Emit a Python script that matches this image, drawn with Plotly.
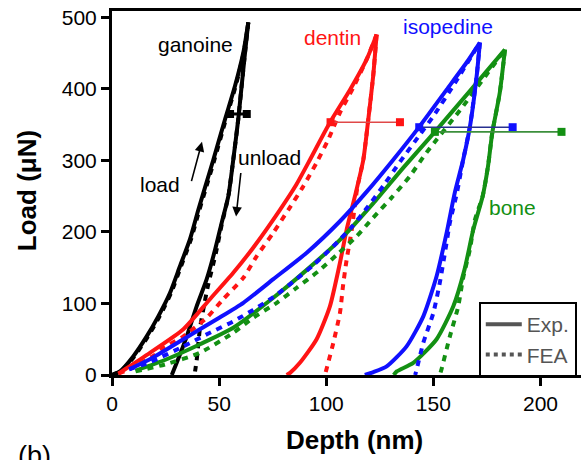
import plotly.graph_objects as go

# ---------------- data (Depth nm, Load uN) ----------------
gan_exp_load_d = [0, 3.7, 9.9, 16.2, 21.6, 27.1, 31.7, 36.4, 40.3, 43.5, 47.3, 52.7, 57.4, 61.3, 63.6]
gan_exp_load_L = [0, 5, 26, 54, 82, 115, 152, 190, 231, 263, 301, 357, 404, 451, 493]
gan_exp_unload_d = [63.6, 62.1, 60.5, 58.9, 56.6, 54.3, 51.2, 48.1, 44.2, 39.5, 34.9, 30.2, 27.9]
gan_exp_unload_L = [493, 451, 404, 357, 301, 250, 213, 175, 134, 96, 54, 17, 0]
gan_fea_load_d = [0, 4.0, 10.4, 16.8, 22.2, 27.6, 32.2, 36.9, 40.8, 44.0, 47.8, 53.1, 57.7, 61.5, 63.6]
gan_fea_load_L = [0, 5, 26, 54, 82, 115, 152, 190, 231, 263, 301, 357, 404, 451, 493]
gan_fea_unload_d = [63.6, 62.1, 60.5, 58.9, 56.6, 54.3, 51.4, 48.5, 44.8, 42.5, 41.0, 39.5, 38.5]
gan_fea_unload_L = [493, 451, 404, 357, 301, 250, 213, 171, 125, 90, 64, 20, 0]

den_exp_load_d = [3, 6.1, 17.7, 33.3, 45.7, 56.6, 65.9, 78.4, 86, 92.4, 101.7, 111.1, 118.8, 123.5]
den_exp_load_L = [2, 8, 31, 64, 106, 143, 178, 231, 266, 301, 353, 399, 441, 476]
den_exp_unload_d = [123.5, 121.9, 119.6, 117.3, 113.8, 109.5, 106.4, 101.7, 95.5, 87.7, 83.1, 81.5]
den_exp_unload_L = [476, 418, 357, 301, 255, 203, 157, 96, 50, 17, 3, 0]
den_fea_load_d = [3, 8, 20, 24, 33.3, 44.2, 51.9, 61.3, 67.5, 75.3, 82.3, 89.3, 95.5, 100.9, 106.4, 112.6, 118.8, 123.5]
den_fea_load_L = [2, 8, 28, 38, 54, 80, 106, 136, 166, 199, 231, 264, 297, 329, 367, 402, 441, 476]
den_fea_unload_d = [123.5, 121.9, 119.6, 117.3, 114.5, 113.5, 111.9, 109.5, 107.8, 106.4, 103.3, 99.4]
den_fea_unload_L = [476, 418, 357, 301, 262, 241, 203, 161, 124, 87, 45, 0]

iso_exp_load_d = [8, 17.7, 33.3, 48.9, 61.3, 75.3, 90.9, 106.4, 118.8, 131, 143.4, 156.2, 165.5, 171.7]
iso_exp_load_L = [8, 22, 50, 78, 101, 134, 171, 215, 256, 300, 347, 399, 437, 465]
iso_exp_unload_d = [171.7, 170.2, 167.1, 163.9, 160.0, 156.2, 151.5, 145.3, 137.5, 128.2, 122, 118]
iso_exp_unload_L = [465, 418, 348, 301, 255, 199, 138, 82, 40, 12, 4, 0]
iso_fea_load_d = [8, 17.7, 33.3, 45, 56.6, 65.9, 75.3, 84.4, 93.7, 103.3, 111.9, 119.6, 127, 134.4, 143.7, 150, 160, 171.7]
iso_fea_load_L = [8, 18, 40, 58, 75, 91, 109, 130, 153, 180, 207, 236, 266, 298, 336, 362, 408, 465]
iso_fea_unload_d = [171.7, 170.2, 167.1, 163.9, 161, 157.7, 155.4, 153, 150, 145.3, 142.2, 141.5]
iso_fea_unload_L = [465, 418, 348, 301, 255, 213, 171, 129, 87, 45, 8, 0]

bon_exp_load_d = [11, 25.5, 41.1, 56.6, 75.3, 90.9, 106.4, 121.9, 136, 150.7, 167, 183.4]
bon_exp_load_L = [6, 22, 43, 66, 108, 147, 189, 240, 290, 340, 397, 455]
bon_exp_unload_d = [183.4, 181, 177.5, 175.5, 173, 168.6, 164.5, 159.3, 151.5, 140.6, 132.9, 131.5]
bon_exp_unload_L = [455, 395, 339, 292, 250, 203, 147, 96, 50, 17, 5, 0]
bon_fea_load_d = [11, 25, 41, 56.6, 65.9, 76.9, 86.2, 96.3, 104.9, 114.2, 121.9, 130.5, 139, 146.8, 163.9, 183.4]
bon_fea_load_L = [5, 15, 31, 59, 80, 101, 122, 145, 168, 194, 220, 248, 278, 311, 376, 455]
bon_fea_unload_d = [183.4, 181, 177.5, 175.5, 173, 169.4, 167, 163.9, 161.6, 157.7, 153.8, 153]
bon_fea_unload_L = [455, 395, 339, 292, 250, 217, 175, 136, 96, 54, 8, 0]

# horizontal marker segments (start/end depth, load)
seg_gan_d = [55.1, 62.9]
seg_gan_L = [365, 365]
seg_den_d = [102.0, 134.4]
seg_den_L = [353.5, 353.5]
seg_iso_d = [143.4, 187.0]
seg_iso_L = [346.5, 346.5]
seg_bon_d = [150.7, 209.8]
seg_bon_L = [340, 340]

x_ticks = [0, 50, 100, 150, 200]
y_ticks = [0, 100, 200, 300, 400, 500]

BLACK = "#000000"
RED = "#ff1414"
BLUE = "#1010ff"
GREEN = "#139013"
FONT = "Liberation Sans, Arial, sans-serif"

fig = go.Figure()

def add_curve(d, L, color, dash):
    fig.add_trace(go.Scatter(
        x=d, y=L, mode="lines", showlegend=False, hoverinfo="skip",
        line=dict(color=color, width=4, dash=dash, shape="spline", smoothing=0.6),
    ))

FEA_DASH = "6px,6px"
curves = [
    (gan_fea_load_d, gan_fea_load_L, gan_fea_unload_d, gan_fea_unload_L,
     gan_exp_load_d, gan_exp_load_L, gan_exp_unload_d, gan_exp_unload_L, BLACK),
    (den_fea_load_d, den_fea_load_L, den_fea_unload_d, den_fea_unload_L,
     den_exp_load_d, den_exp_load_L, den_exp_unload_d, den_exp_unload_L, RED),
    (bon_fea_load_d, bon_fea_load_L, bon_fea_unload_d, bon_fea_unload_L,
     bon_exp_load_d, bon_exp_load_L, bon_exp_unload_d, bon_exp_unload_L, GREEN),
    (iso_fea_load_d, iso_fea_load_L, iso_fea_unload_d, iso_fea_unload_L,
     iso_exp_load_d, iso_exp_load_L, iso_exp_unload_d, iso_exp_unload_L, BLUE),
]
for (fld, flL, fud, fuL, eld, elL, eud, euL, c) in curves:
    add_curve(fld, flL, c, FEA_DASH)
    add_curve(fud, fuL, c, FEA_DASH)
    add_curve(eld, elL, c, "solid")
    add_curve(eud, euL, c, "solid")

segs = [
    (seg_gan_d, seg_gan_L, BLACK, BLACK, 3),
    (seg_den_d, seg_den_L, "#e04848", RED, 1.6),
    (seg_iso_d, seg_iso_L, "#27308f", BLUE, 1.6),
    (seg_bon_d, seg_bon_L, "#3c8f3c", GREEN, 1.6),
]
for d, L, lc, mc, w in segs:
    fig.add_trace(go.Scatter(
        x=d, y=L, mode="lines+markers", showlegend=False, hoverinfo="skip",
        line=dict(color=lc, width=w),
        marker=dict(symbol="square", size=8, color=mc),
    ))

# legend entries
fig.add_trace(go.Scatter(x=[None], y=[None], mode="lines", name="Exp.",
                         line=dict(color="#555555", width=4)))
fig.add_trace(go.Scatter(x=[None], y=[None], mode="lines", name="FEA",
                         line=dict(color="#555555", width=4, dash="4px,4px")))

labels = [
    ("ganoine", 39, 462.5, BLACK),
    ("dentin", 102.9, 472, RED),
    ("isopedine", 156.8, 487, BLUE),
    ("bone", 187.1, 234, GREEN),
    ("load", 22.4, 266, BLACK),
    ("unload", 73.5, 304, BLACK),
]
annotations = []
for t, x, y, c in labels:
    annotations.append(dict(text=t, x=x, y=y, xref="x", yref="y", showarrow=False,
                            xanchor="center", yanchor="middle",
                            font=dict(family=FONT, size=21, color=c)))
# arrows
for (tx, ty, sx, sy) in [(42, 326, 36.9, 269), (57.9, 221.7, 60.2, 284.6)]:
    annotations.append(dict(text="", x=tx, y=ty, ax=sx, ay=sy, xref="x", yref="y",
                            axref="x", ayref="y", showarrow=True, arrowhead=2,
                            arrowsize=1.2, arrowwidth=1.6, arrowcolor=BLACK))
annotations += [
    dict(text="<b>Load (\u03bcN)</b>", xref="paper", yref="paper", x=-0.1812, y=0.505,
         xanchor="center", yanchor="middle",
         textangle=-90, showarrow=False, font=dict(family=FONT, size=26, color=BLACK)),
    dict(text="<b>Depth (nm)</b>", xref="paper", yref="paper", x=0.518, y=-0.1786,
         xanchor="center", yanchor="middle",
         showarrow=False, font=dict(family=FONT, size=26, color=BLACK)),
    dict(text="(b)", xref="paper", yref="paper", x=-0.165, y=-0.176, yanchor="top",
         xanchor="center",
         showarrow=False, font=dict(family=FONT, size=27, color=BLACK)),
]

fig.update_layout(
    width=581, height=460,
    margin=dict(l=112, r=0, t=11, b=85),
    paper_bgcolor="white", plot_bgcolor="white",
    font=dict(family=FONT, color=BLACK),
    showlegend=True,
    legend=dict(x=0.991, y=0.2005, xanchor="right", yanchor="top",
                bgcolor="white", bordercolor=BLACK, borderwidth=2,
                font=dict(family=FONT, size=21, color="#555555"),
                tracegroupgap=0, itemwidth=36),
    annotations=annotations,
)
fig.update_xaxes(range=[0, 218.9], tickvals=x_ticks, ticks="outside", ticklen=8,
                 tickwidth=3, tickcolor=BLACK, showline=True, linewidth=3,
                 linecolor=BLACK, mirror=True, showgrid=False, zeroline=False,
                 tickfont=dict(family=FONT, size=21, color=BLACK))
fig.update_yaxes(range=[0, 509], tickvals=y_ticks, ticks="outside", ticklen=8,
                 tickwidth=3, tickcolor=BLACK, showline=True, linewidth=3,
                 linecolor=BLACK, showgrid=False, zeroline=False,
                 tickfont=dict(family=FONT, size=21, color=BLACK))

fig.write_html("out.html")
